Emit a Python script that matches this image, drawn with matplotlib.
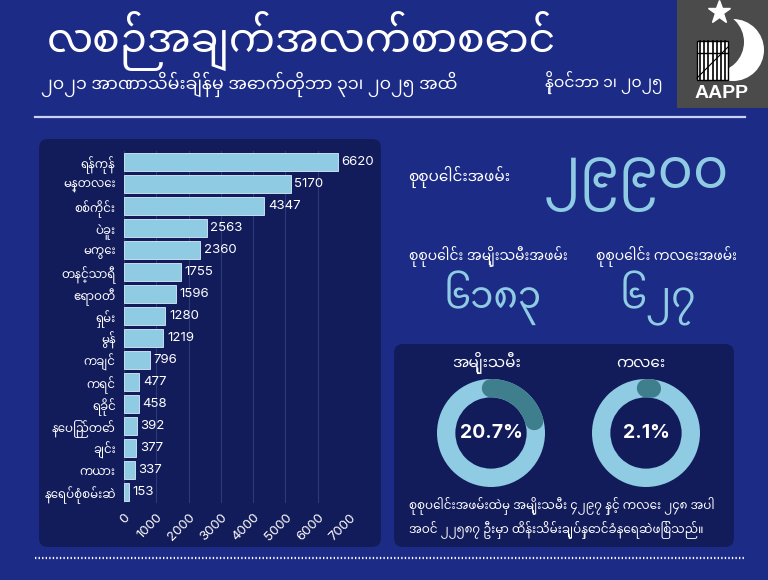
import numpy as np
import matplotlib
matplotlib.use("Agg")
import matplotlib.pyplot as plt
from matplotlib import font_manager
from matplotlib.patches import FancyBboxPatch, Rectangle, Circle

# ---------------- data ----------------
regions = ["ရန်ကုန်", "မန္တလေး", "စစ်ကိုင်း", "ပဲခူး", "မကွေး", "တနင်္သာရီ", "ဧရာဝတီ",
           "ရှမ်း", "မွန်", "ကချင်", "ကရင်", "ရခိုင်", "နေပြည်တော်", "ချင်း", "ကယား",
           "နေရပ်စုံစမ်းဆဲ"]
arrests = [6620, 5170, 4347, 2563, 2360, 1755, 1596, 1280, 1219, 796, 477, 458, 392, 377, 337, 153]
x_ticks = [0, 1000, 2000, 3000, 4000, 5000, 6000, 7000]

total_label = "၂၉၉၀၀"
women_label = "၆၁၈၃"
child_label = "၆၂၇"
donut_names = ["အမျိုးသမီး", "ကလေး"]
donut_pcts = [20.7, 2.1]

title = "လစဉ်အချက်အလက်စာစောင်"
subtitle = "၂၀၂၁ အာဏာသိမ်းချိန်မှ အောက်တိုဘာ ၃၁၊ ၂၀၂၅ အထိ"
date_txt = "နိုဝင်ဘာ ၁၊ ၂၀၂၅"
note = ("စုစုပေါင်းအဖမ်းထဲမှ အမျိုးသမီး ၄၂၉၇ နှင့် ကလေး ၂၄၈ အပါ\n"
        "အဝင် ၂၂၅၈၇ ဦးမှာ ထိန်းသိမ်းချုပ်နှောင်ခံနေရဆဲဖြစ်သည်။")

# ---------------- fonts ----------------
have = {f.name for f in font_manager.fontManager.ttflist}
mm = [n for n in ("Noto Sans Myanmar", "Noto Sans Myanmar UI", "Padauk", "Myanmar Text",
                  "Pyidaungsu", "Noto Serif Myanmar") if n in have]
MMF = mm + ["DejaVu Sans"]
NUMF = ["Inter", "DejaVu Sans"]
plt.rcParams["font.family"] = MMF

BG = "#1c2b86"
PANEL = "#131c5b"
LIGHT = "#8fcbe2"
TEAL = "#3f7e8c"

W, H = 768, 580
fig = plt.figure(figsize=(W / 100, H / 100), dpi=100, facecolor=BG)

# background canvas in pixel coords
bg = fig.add_axes([0, 0, 1, 1])
bg.set_xlim(0, W); bg.set_ylim(H, 0); bg.axis("off")

bg.add_patch(FancyBboxPatch((39, 139), 342, 408, boxstyle="round,pad=0,rounding_size=9",
                            fc=PANEL, ec="none"))
bg.add_patch(FancyBboxPatch((394, 344), 340, 203, boxstyle="round,pad=0,rounding_size=9",
                            fc=PANEL, ec="none"))

bg.text(47, 41, title, fontsize=29.5, color="white", fontweight="bold", va="center")
bg.text(41, 84, subtitle, fontsize=12.6, color="white", va="center")
bg.text(545, 82, date_txt, fontsize=11.2, color="white", va="center")
bg.plot([35, 745], [117, 117], color="#c9d2f2", lw=1.6)
bg.plot([35, 745], [558, 558], color="white", lw=1.6, ls=(0, (0.6, 1.0)))

# logo
bg.add_patch(Rectangle((677, 0), 91, 108, fc="#4b4b4b", ec="none"))
bg.add_patch(Circle((733, 50), 31, fc="white", ec="none"))
bg.add_patch(Circle((714, 42), 30, fc="#4b4b4b", ec="none"))
bg.plot([719], [12], marker="*", ms=17, color="white", mec="white")
bg.add_patch(Rectangle((697, 41), 31, 39, fc="white", ec="black", lw=1))
for xx in np.linspace(700, 725, 7):
    bg.plot([xx, xx], [41, 80], color="black", lw=1.2)
bg.plot([697, 728], [53, 53], color="black", lw=1)
bg.plot([697, 728], [78, 47], color="black", lw=0.8)
bg.text(722, 93, "AAPP", fontsize=14, color="white", fontweight="bold", ha="center",
        va="center", family=["Liberation Sans", "DejaVu Sans"])

# right top totals
bg.text(408, 177, "စုစုပေါင်းအဖမ်း", fontsize=11, color="white", fontweight="bold", va="center")
bg.text(636, 184, total_label, fontsize=39, color=LIGHT, ha="center", va="center")
bg.text(409, 257, "စုစုပေါင်း အမျိုးသမီးအဖမ်း", fontsize=10, color="white", fontweight="bold", va="center")
bg.text(596, 257, "စုစုပေါင်း ကလေးအဖမ်း", fontsize=10, color="white", fontweight="bold", va="center")
bg.text(493, 298, women_label, fontsize=27, color=LIGHT, ha="center", va="center")
bg.text(658, 298, child_label, fontsize=27, color=LIGHT, ha="center", va="center")
bg.text(409, 518, note, fontsize=8.6, color="white", va="center", linespacing=1.45)

# ---------------- bar chart ----------------
ax = fig.add_axes([124 / W, 1 - 503 / H, 226 / W, 352 / H])
ax.set_facecolor("none")
y = np.arange(len(regions))
ax.barh(y, arrests, height=0.86, color=LIGHT, edgecolor="#dceefa", lw=0.6, zorder=3)
for yi, v in zip(y, arrests):
    ax.text(v + 110, yi, f"{v}", fontsize=9.5, color="white", va="center", ha="left",
            family=NUMF, zorder=4)
ax.set_xlim(0, 7000)
ax.set_ylim(len(regions) - 0.5, -0.5)
ax.set_xticks(x_ticks)
ax.set_xticklabels([str(t) for t in x_ticks], rotation=45, ha="right", rotation_mode="anchor",
                   fontsize=9.5, color="white", family=NUMF)
ax.set_yticks(y)
ax.set_yticklabels(regions, fontsize=8.5, color="white")
ax.tick_params(axis="both", length=0, pad=6)
ax.grid(axis="x", color="#2c3a7a", lw=0.8, zorder=0)
for s in ax.spines.values():
    s.set_visible(False)

# ---------------- donuts ----------------
centers = [(491, 433), (646, 433)]
label_x = [487, 641]
R = 54
ring_w = 0.34
for (cx, cy), lx, name, pct in zip(centers, label_x, donut_names, donut_pcts):
    d = fig.add_axes([(cx - R) / W, 1 - (cy + R) / H, 2 * R / W, 2 * R / H])
    d.axis("off")
    d.pie([1], radius=1, colors=[LIGHT], startangle=90,
          wedgeprops=dict(width=ring_w, edgecolor="none"))
    th = np.radians(np.linspace(90, 90 - 360 * pct / 100, 100))
    rm = 1 - ring_w / 2
    d.plot(rm * np.cos(th), rm * np.sin(th), color=TEAL, lw=ring_w * R * 0.72,
           solid_capstyle="round")
    d.set_xlim(-1, 1); d.set_ylim(-1, 1); d.set_aspect("equal")
    d.text(0, 0, f"{pct}%", fontsize=14, color="white", fontweight="bold",
           ha="center", va="center", family=NUMF)
    bg.text(lx, 363, name, fontsize=11, color="white", fontweight="bold", ha="center", va="center")

fig.savefig("out.png", dpi=100, facecolor=BG)
